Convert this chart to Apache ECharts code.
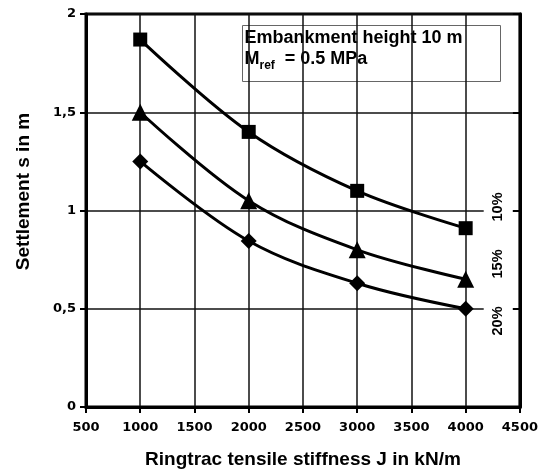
<!DOCTYPE html>
<html>
<head>
<meta charset="utf-8">
<script src="https://cdn.jsdelivr.net/npm/echarts@6/dist/echarts.min.js"></script>
<style>html,body{margin:0;padding:0;background:#fff}#c{width:541px;height:474px}</style>
</head>
<body>
<div id="c"></div>
<script>
const stiffness = [1000, 2000, 3000, 4000];
const settle10 = [1.87, 1.40, 1.10, 0.91];
const settle15 = [1.50, 1.05, 0.80, 0.65];
const settle20 = [1.25, 0.845, 0.63, 0.50];
const seriesNames = ['10%', '15%', '20%'];
const labelPos = [[4300, 1.018], [4300, 0.728], [4300, 0.438]];
const xTitle = 'Ringtrac tensile stiffness J in kN/m';
const yTitle = 'Settlement s in m';
const noteLine1 = 'Embankment height 10 m';
const noteLine2a = 'M';
const noteSub = 'ref';
const noteLine2b = '  = 0.5 MPa';

const chart = echarts.init(document.getElementById('c'), null, {renderer: 'canvas'});
const tickFont = {fontFamily: 'DejaVu Sans', fontWeight: 'bold', fontSize: 13, color: '#000'};
function mk(name, vals, symbol, size, lp) {
  return {
    name: name, type: 'line', smooth: 0.35,
    data: stiffness.map((x, i) => [x, vals[i]]),
    symbol: symbol, symbolSize: size, showAllSymbol: true,
    lineStyle: {color: '#000', width: 3},
    itemStyle: {color: '#000'},
    z: 5,
    markPoint: {
      symbol: 'rect', symbolSize: 0, silent: true,
      data: [{coord: lp, value: name}],
      label: {show: true, position: 'inside', formatter: name, rotate: 90,
        fontFamily: 'Liberation Sans', fontWeight: 'bold', fontSize: 14.5, color: '#000',
        backgroundColor: '#fff', padding: [7, 2]}
    }
  };
}
chart.setOption({
  animation: false,
  backgroundColor: '#fff',
  grid: {left: 86, right: 21, top: 14, bottom: 67, show: true, borderColor: '#000', borderWidth: 3, backgroundColor: 'transparent'},
  xAxis: {
    type: 'value', min: 500, max: 4500, interval: 500,
    name: xTitle, nameLocation: 'middle', nameGap: 43,
    nameTextStyle: {fontFamily: 'Liberation Sans', fontWeight: 'bold', fontSize: 19, color: '#000'},
    axisLine: {show: true, lineStyle: {color: '#000', width: 3}},
    axisTick: {show: true, length: 6, lineStyle: {color: '#000', width: 2}},
    axisLabel: Object.assign({margin: 14, formatter: v => String(v)}, tickFont),
    splitLine: {show: true, lineStyle: {color: '#111', width: 1.5}}
  },
  yAxis: [{
    type: 'value', min: 0, max: 2, interval: 0.5,
    name: yTitle, nameLocation: 'middle', nameGap: 53,
    nameTextStyle: {fontFamily: 'Liberation Sans', fontWeight: 'bold', fontSize: 19, color: '#000', padding: [0, 0, 0, 38]},
    axisLine: {show: true, lineStyle: {color: '#000', width: 3}},
    axisTick: {show: true, length: 6, lineStyle: {color: '#000', width: 2}},
    axisLabel: Object.assign({margin: 10, formatter: v => String(v).replace('.', ',')}, tickFont),
    splitLine: {show: true, lineStyle: {color: '#111', width: 1.5}}
  }, {
    type: 'value', min: 0, max: 2, interval: 0.5, position: 'right',
    axisLine: {show: true, lineStyle: {color: '#000', width: 3}},
    axisTick: {show: true, inside: true, length: 7, lineStyle: {color: '#000', width: 2}},
    axisLabel: {show: false}, splitLine: {show: false}
  }],
  series: [
    mk(seriesNames[0], settle10, 'rect', 14, labelPos[0]),
    mk(seriesNames[1], settle15, 'triangle', 17, labelPos[1]),
    mk(seriesNames[2], settle20, 'diamond', 16, labelPos[2])
  ],
  graphic: [{
    type: 'group', left: 242, top: 25, z: 100,
    children: [
      {type: 'rect', shape: {x: 0, y: 0, width: 258, height: 56}, style: {fill: '#fff', stroke: '#666', lineWidth: 1}},
      {type: 'text', x: 2, y: 3.5, style: {text: noteLine1, font: 'bold 18px "Liberation Sans"', fill: '#000'}},
      {type: 'text', x: 2, y: 24.5, style: {
        text: '{m|' + noteLine2a + '}{s|' + noteSub + '}{m|' + noteLine2b + '}',
        rich: {m: {font: 'bold 18px "Liberation Sans"', fill: '#000', verticalAlign: 'top', lineHeight: 22},
               s: {font: 'bold 12px "Liberation Sans"', fill: '#000', padding: [10, 0, 0, 0], lineHeight: 22}}
      }}
    ]
  }]
});
</script>
</body>
</html>
